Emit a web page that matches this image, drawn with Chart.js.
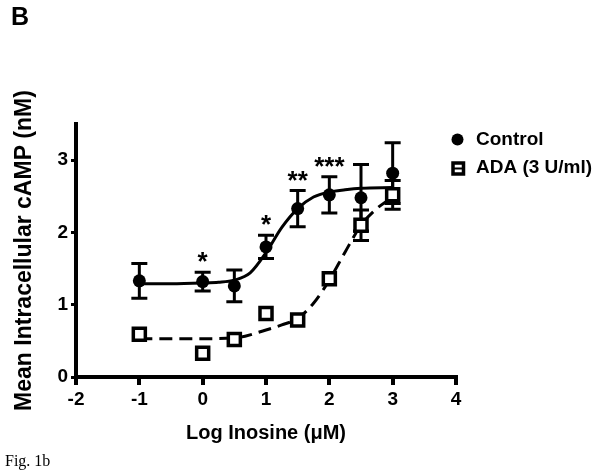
<!DOCTYPE html>
<html>
<head>
<meta charset="utf-8">
<script src="https://cdn.jsdelivr.net/npm/chart.js@4.4.1/dist/chart.umd.min.js"></script>
<style>
  html, body { margin: 0; padding: 0; background: #fff; }
  #wrap { position: relative; width: 603px; height: 474px; }
  canvas { position: absolute; left: 0; top: 0; }
  .panel { position: absolute; left: 11px; top: 2px; font: bold 25px "Liberation Sans", Arial, sans-serif; }
  .caption { position: absolute; left: 5px; top: 452px; font: 16px "Liberation Serif", "Times New Roman", serif; }
</style>
</head>
<body>
<div id="wrap">
  <canvas id="chart" width="603" height="474"></canvas>
  <div class="panel">B</div>
  <div class="caption">Fig. 1b</div>
</div>
<script>
// log dose (µM) of inosine
const doses = [-1, 0, 0.5, 1, 1.5, 2, 2.5, 3];

// mean cAMP (nM) with SEM
const controlMean = [1.33, 1.32, 1.26, 1.80, 2.33, 2.52, 2.48, 2.82];
const controlSem = [0.24, 0.13, 0.22, 0.16, 0.25, 0.25, 0.46, 0.42];
const adaMean = [0.59, 0.33, 0.52, 0.88, 0.79, 1.36, 2.10, 2.52];
const adaSem = [null, null, null, null, null, null, 0.21, 0.20]; // null = hidden by the symbol

const sigMarks = ["", "*", "", "*", "**", "***", "", ""];

// fitted curves
const controlFitX = [-1, -0.5, 0, 0.25, 0.5, 0.75, 1, 1.25, 1.5, 1.75, 2, 2.25, 2.5, 3];
const controlFitY = [1.29, 1.29, 1.30, 1.31, 1.34, 1.44, 1.72, 2.07, 2.33, 2.49, 2.56, 2.59, 2.61, 2.62];
const adaFitX = [-1, -0.5, 0, 0.5, 1, 1.25, 1.5, 1.75, 2, 2.25, 2.5, 2.75, 3];
const adaFitY = [0.53, 0.53, 0.53, 0.54, 0.65, 0.72, 0.81, 1.02, 1.34, 1.73, 2.10, 2.33, 2.49];

const xTicks = [-2, -1, 0, 1, 2, 3, 4];
const yTicks = [0, 1, 2, 3];
const seriesNames = ["Control", "ADA (3 U/ml)"];

const FONT = '"Liberation Sans", Arial, Helvetica, sans-serif';
Chart.defaults.font.family = FONT;
Chart.defaults.color = "#000";

const pts = (xs, ys) => xs.map((v, i) => ({ x: v, y: ys[i] }));

// error bars + significance stars
const errorBars = {
  id: "errorBars",
  beforeDatasetsDraw(chart) {
    const { ctx, scales: { x, y } } = chart;
    ctx.save();
    ctx.strokeStyle = "#000";
    ctx.lineWidth = 3;
    [[controlMean, controlSem], [adaMean, adaSem]].forEach(([m, s]) => {
      doses.forEach((d, i) => {
        if (s[i] == null) return;
        const px = x.getPixelForValue(d);
        const top = y.getPixelForValue(m[i] + s[i]);
        const bot = y.getPixelForValue(m[i] - s[i]);
        ctx.beginPath();
        ctx.moveTo(px, top); ctx.lineTo(px, bot);
        ctx.moveTo(px - 8, top); ctx.lineTo(px + 8, top);
        ctx.moveTo(px - 8, bot); ctx.lineTo(px + 8, bot);
        ctx.stroke();
      });
    });
    ctx.restore();
  },
  afterDatasetsDraw(chart) {
    const { ctx, scales: { x, y } } = chart;
    ctx.save();
    ctx.fillStyle = "#000";
    ctx.font = "bold 26px " + FONT;
    ctx.textAlign = "center";
    ctx.textBaseline = "alphabetic";
    doses.forEach((d, i) => {
      if (!sigMarks[i]) return;
      const px = x.getPixelForValue(d);
      const top = y.getPixelForValue(controlMean[i] + controlSem[i]);
      ctx.fillText(sigMarks[i], px, top - 17 + 15);
    });
    ctx.restore();
  }
};

// legend to the right of the plot
const sideLegend = {
  id: "sideLegend",
  afterDraw(chart) {
    const { ctx } = chart;
    ctx.save();
    ctx.fillStyle = "#000";
    ctx.strokeStyle = "#000";
    // Control: filled circle
    ctx.beginPath();
    ctx.arc(457.5, 139.5, 6, 0, Math.PI * 2);
    ctx.fill();
    // ADA: open square
    ctx.lineWidth = 3.5;
    ctx.strokeRect(453, 163, 10.5, 11);
    ctx.lineWidth = 2;
    ctx.beginPath();
    ctx.moveTo(453, 168.5); ctx.lineTo(463.5, 168.5);
    ctx.stroke();

    ctx.font = "bold 19px " + FONT;
    ctx.textBaseline = "middle";
    ctx.textAlign = "left";
    ctx.fillText(seriesNames[0], 476, 140);
    ctx.fillText(seriesNames[1], 476, 168);
    ctx.restore();
  }
};

new Chart(document.getElementById("chart"), {
  type: "scatter",
  data: {
    datasets: [
      {
        label: seriesNames[1],
        data: pts(doses, adaMean),
        pointStyle: "rect",
        pointRadius: 8.5,
        backgroundColor: "#fff",
        borderColor: "#000",
        borderWidth: 3.5,
        showLine: false,
        order: 0
      },
      {
        label: seriesNames[1] + " fit",
        data: pts(adaFitX, adaFitY),
        showLine: true,
        borderColor: "#000",
        borderWidth: 3,
        borderDash: [13, 7],
        pointRadius: 0,
        cubicInterpolationMode: "monotone",
        order: 1
      },
      {
        label: seriesNames[0],
        data: pts(doses, controlMean),
        pointStyle: "circle",
        pointRadius: 6.5,
        backgroundColor: "#000",
        borderColor: "#000",
        borderWidth: 0,
        showLine: false,
        order: 2
      },
      {
        label: seriesNames[0] + " fit",
        data: pts(controlFitX, controlFitY),
        showLine: true,
        borderColor: "#000",
        borderWidth: 3,
        pointRadius: 0,
        cubicInterpolationMode: "monotone",
        order: 3
      }
    ]
  },
  options: {
    responsive: false,
    animation: false,
    devicePixelRatio: 1,
    layout: { padding: { left: 0, top: 124, right: 147, bottom: 0 } },
    scales: {
      x: {
        type: "linear",
        min: -2,
        max: 4,
        afterBuildTicks: (s) => { s.ticks = xTicks.map((v) => ({ value: v })); },
        afterFit: (s) => { s.height = 97; s.paddingLeft = 0; s.paddingRight = 0; },
        border: { display: true, color: "#000", width: 4 },
        grid: { drawOnChartArea: false, color: "#000", lineWidth: 4, tickLength: 8 },
        ticks: { color: "#000", font: { size: 19, weight: "bold" }, padding: 3, maxRotation: 0, autoSkip: false },
        title: {
          display: true,
          text: "Log Inosine (μM)",
          color: "#000",
          font: { size: 20, weight: "bold" },
          padding: { top: 0, bottom: 29 }
        }
      },
      y: {
        min: 0,
        max: 3.5,
        afterBuildTicks: (s) => { s.ticks = yTicks.map((v) => ({ value: v })); },
        afterFit: (s) => { s.width = 76; s.paddingTop = 0; s.paddingBottom = 0; },
        border: { display: true, color: "#000", width: 4 },
        grid: { drawOnChartArea: false, color: "#000", lineWidth: 3, tickLength: 5 },
        ticks: { color: "#000", font: { size: 19, weight: "bold" }, padding: 3 },
        title: {
          display: true,
          text: "Mean Intracellular cAMP (nM)",
          color: "#000",
          font: { size: 23, weight: "bold" },
          padding: { top: 11, bottom: 0 }
        }
      }
    },
    plugins: {
      legend: { display: false },
      tooltip: { enabled: false }
    }
  },
  plugins: [errorBars, sideLegend]
});
</script>
</body>
</html>
